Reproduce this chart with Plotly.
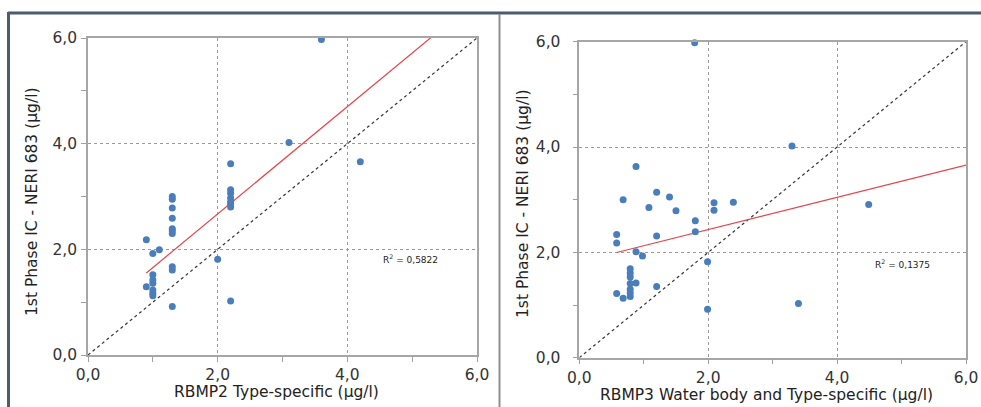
import plotly.graph_objects as go

# ---------------- data ----------------
left_x = [3.6, 3.1, 4.2, 2.2, 2.2, 2.2, 2.2, 2.2, 2.2, 2.2,
          1.3, 1.3, 1.3, 1.3, 1.3, 1.3, 1.3,
          0.9, 1.0, 1.1, 2.0, 1.3, 1.3,
          1.0, 1.0, 1.0, 1.0, 1.0, 1.0, 0.9, 1.3, 2.2]
left_y = [5.97, 4.02, 3.66, 3.62, 3.13, 3.06, 2.97, 2.90, 2.86, 2.80,
          3.00, 2.95, 2.78, 2.59, 2.39, 2.35, 2.30,
          2.18, 1.92, 1.99, 1.81, 1.67, 1.61,
          1.52, 1.42, 1.36, 1.23, 1.17, 1.12, 1.29, 0.92, 1.02]

right_x = [1.79, 3.3, 4.49, 0.88, 0.68, 1.2, 1.4, 1.08, 1.5, 2.09, 2.09, 2.39,
           1.8, 1.8, 1.2, 0.58, 0.58, 0.88, 0.98, 1.99,
           0.79, 0.79, 0.79, 0.79, 0.79, 0.79, 0.79,
           0.88, 0.58, 0.68, 1.2, 1.99, 3.4]
right_y = [5.98, 4.02, 2.91, 3.63, 3.00, 3.14, 3.05, 2.85, 2.79, 2.94, 2.80, 2.95,
           2.60, 2.39, 2.31, 2.34, 2.18, 2.01, 1.93, 1.82,
           1.69, 1.61, 1.53, 1.41, 1.30, 1.23, 1.16,
           1.42, 1.22, 1.13, 1.35, 0.92, 1.03]

# trendlines (slope, intercept, start x)
left_trend = [1.015, 0.64, 0.9]
right_trend = [0.306, 1.82, 0.58]
left_r2 = "0,5822"
right_r2 = "0,1375"

left_xtitle = "RBMP2 Type-specific (µg/l)"
right_xtitle = "RBMP3 Water body and Type-specific (µg/l)"
ytitle = "1st Phase IC - NERI 683 (µg/l)"
tick_vals = [0, 2, 4, 6]
axis_range = [0, 6]

# ---------------- figure ----------------
W, H = 981, 407
MARK = "#4a7ebb"
FONT = "DejaVu Sans"

def px_x(p):
    return p / W

def px_y(p):
    return 1 - p / H

fig = go.Figure()

panels = [
    dict(xs=left_x, ys=left_y, tr=left_trend, r2=left_r2, xa="x", ya="y"),
    dict(xs=right_x, ys=right_y, tr=right_trend, r2=right_r2, xa="x2", ya="y2"),
]

for p in panels:
    # 1:1 dotted line
    fig.add_trace(go.Scatter(x=axis_range, y=axis_range, mode="lines",
                             line=dict(color="#333333", width=1.2, dash="3px,3px"),
                             xaxis=p["xa"], yaxis=p["ya"], hoverinfo="skip"))
    s, b, x0 = p["tr"]
    tx = [x0, axis_range[1]]
    fig.add_trace(go.Scatter(x=tx, y=[s * v + b for v in tx], mode="lines",
                             line=dict(color="#e8434a", width=1.2),
                             xaxis=p["xa"], yaxis=p["ya"], hoverinfo="skip"))
    fig.add_trace(go.Scatter(x=p["xs"], y=p["ys"], mode="markers",
                             marker=dict(color=MARK, size=7, line=dict(width=0)),
                             cliponaxis=False,
                             xaxis=p["xa"], yaxis=p["ya"]))

def xaxis(domain, anchor):
    return dict(domain=domain, anchor=anchor, range=axis_range, tickvals=tick_vals,
                tickformat=".1f", ticks="outside", ticklen=5, tickcolor="#a0a0a0",
                showline=True, linecolor="#a6a6a6", linewidth=1.5, mirror=True,
                showgrid=True, gridcolor="#9a9a9a", griddash="3px,3px", gridwidth=1,
                minor=dict(dtick=1, ticks="outside", ticklen=5, tickcolor="#a0a0a0", showgrid=False),
                zeroline=False, automargin=False,
                tickfont=dict(family=FONT, size=15.5, color="#333333"),
                fixedrange=True)

def yaxis(domain, anchor, standoff):
    d = xaxis(domain, anchor)
    d["ticklabelstandoff"] = standoff
    return d

L = dict(x0=88, x1=477, y0=355, y1=38)
R = dict(x0=579.3, x1=966, y0=357.7, y1=41.7)

fig.update_layout(
    width=W, height=H, margin=dict(l=0, r=0, t=0, b=0, autoexpand=False),
    paper_bgcolor="white", plot_bgcolor="white", showlegend=False,
    separators=",.",
    font=dict(family=FONT, color="#222222"),
    xaxis=xaxis([px_x(L["x0"]), px_x(L["x1"])], "y"),
    yaxis=yaxis([px_y(L["y0"]), px_y(L["y1"])], "x", 1),
    xaxis2=xaxis([px_x(R["x0"]), px_x(R["x1"])], "y2"),
    yaxis2=yaxis([px_y(R["y0"]), px_y(R["y1"])], "x2", 9),
)

TF = dict(family=FONT, size=15.5, color="#222222")
ann = []
# axis titles
ann.append(dict(text=left_xtitle, x=px_x(276), y=px_y(392), xref="paper", yref="paper",
                showarrow=False, font=TF, xanchor="center", yanchor="middle"))
ann.append(dict(text=right_xtitle, x=px_x(766), y=px_y(395), xref="paper", yref="paper",
                showarrow=False, font=TF, xanchor="center", yanchor="middle"))
ann.append(dict(text=ytitle, x=px_x(32), y=px_y(202), xref="paper", yref="paper", textangle=-90,
                showarrow=False, font=TF, xanchor="center", yanchor="middle"))
ann.append(dict(text=ytitle, x=px_x(523), y=px_y(204), xref="paper", yref="paper", textangle=-90,
                showarrow=False, font=TF, xanchor="center", yanchor="middle"))
# R2 labels
ann.append(dict(text="R<sup>2</sup> = " + left_r2, x=4.98, y=1.82, xref="x", yref="y",
                showarrow=False, font=dict(family=FONT, size=9, color="#222222")))
ann.append(dict(text="R<sup>2</sup> = " + right_r2, x=5.02, y=1.77, xref="x2", yref="y2",
                showarrow=False, font=dict(family=FONT, size=9, color="#222222")))
fig.update_layout(annotations=ann)

# frame lines
shapes = [
    dict(type="line", xref="paper", yref="paper", x0=px_x(8), x1=1, y0=px_y(13), y1=px_y(13),
         line=dict(color="#4b5d6e", width=3)),
    dict(type="line", xref="paper", yref="paper", x0=px_x(8.5), x1=px_x(8.5), y0=px_y(12), y1=0,
         line=dict(color="#4b5d6e", width=3)),
    dict(type="line", xref="paper", yref="paper", x0=px_x(499.5), x1=px_x(499.5), y0=px_y(14), y1=0,
         line=dict(color="#8f8f8f", width=2)),
]
fig.update_layout(shapes=shapes)

fig.write_html("out.html")
